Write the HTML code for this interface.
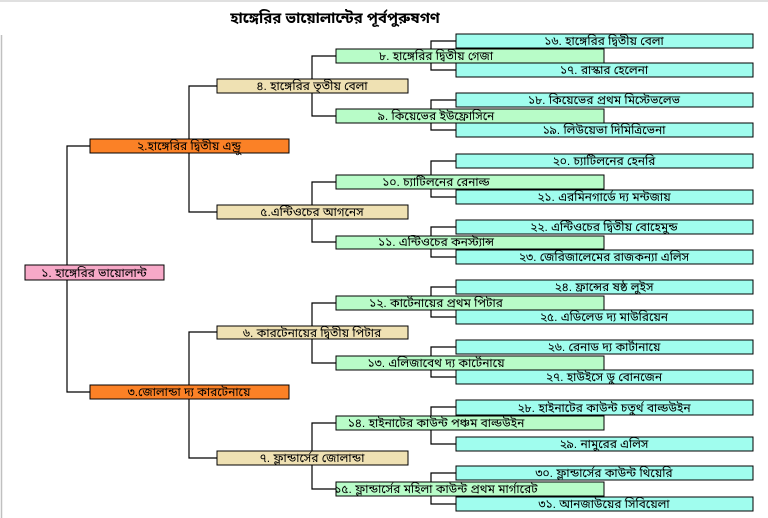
<!DOCTYPE html>
<html><head><meta charset="utf-8"><style>
html,body{margin:0;padding:0;background:#fff;}
svg{display:block;}
text{font-family:"Liberation Sans","Noto Sans Bengali","Lohit Bengali",sans-serif;font-size:12px;fill:#000;text-anchor:middle;}
</style></head><body>
<svg width="768" height="518" viewBox="0 0 768 518" xmlns="http://www.w3.org/2000/svg">
<rect x="0" y="0" width="768" height="518" fill="#fff"/>
<line x1="0" y1="1" x2="768" y2="1" stroke="#c0c0c0" stroke-width="1"/>
<line x1="1.5" y1="35" x2="1.5" y2="518" stroke="#c0c0c0" stroke-width="1.5"/>
<text x="335" y="23" style="font-size:15px;font-weight:bold">হাঙ্গেরির ভায়োলান্টের পূর্বপুরুষগণ</text>
<g stroke="#000" stroke-width="1.2" fill="none">
<path d="M90 146H67V392H90"/>
<path d="M217 86H189V212H217"/>
<path d="M217 332H189V458H217"/>
<path d="M336 56H312V116H336"/>
<path d="M336 182H312V242H336"/>
<path d="M336 303H312V363H336"/>
<path d="M336 423H312V489H336"/>
<path d="M456 41H431V70H456"/>
<path d="M456 100H431V130H456"/>
<path d="M456 161H431V197H456"/>
<path d="M456 227H431V257H456"/>
<path d="M456 287H431V317H456"/>
<path d="M456 347H431V377H456"/>
<path d="M456 407H431V444H456"/>
<path d="M456 473H431V504H456"/>
</g>
<g stroke="#000" stroke-width="1">
<rect x="25" y="265" width="139" height="15" fill="#f7a9c8"/>
<rect x="90" y="139" width="199" height="14" fill="#fb8126"/>
<rect x="90" y="385" width="199" height="14" fill="#fb8126"/>
<rect x="217" y="79" width="191" height="14" fill="#efe1b3"/>
<rect x="217" y="205" width="191" height="14" fill="#efe1b3"/>
<rect x="217" y="326" width="191" height="13" fill="#efe1b3"/>
<rect x="217" y="451" width="191" height="14" fill="#efe1b3"/>
<g fill="#b8fcc8">
<rect x="336" y="49" width="268" height="14"/>
<rect x="336" y="109" width="268" height="14"/>
<rect x="336" y="175" width="268" height="14"/>
<rect x="336" y="236" width="268" height="13"/>
<rect x="336" y="296" width="268" height="14"/>
<rect x="336" y="356" width="268" height="14"/>
<rect x="336" y="416" width="268" height="14"/>
<rect x="336" y="482" width="268" height="14"/>
</g>
<g fill="#a0fdee">
<rect x="456" y="34" width="297" height="14"/>
<rect x="456" y="63" width="297" height="14"/>
<rect x="456" y="93" width="297" height="14"/>
<rect x="456" y="123" width="297" height="14"/>
<rect x="456" y="154" width="297" height="14"/>
<rect x="456" y="190" width="297" height="14"/>
<rect x="456" y="220" width="297" height="14"/>
<rect x="456" y="250" width="297" height="14"/>
<rect x="456" y="280" width="297" height="14"/>
<rect x="456" y="310" width="297" height="14"/>
<rect x="456" y="340" width="297" height="14"/>
<rect x="456" y="370" width="297" height="14"/>
<rect x="456" y="400" width="297" height="15"/>
<rect x="456" y="437" width="297" height="14"/>
<rect x="456" y="466" width="297" height="14"/>
<rect x="456" y="497" width="297" height="14"/>
</g>
</g>
<text x="94" y="277">১. হাঙ্গেরির ভায়োলান্ট</text>
<text x="189" y="150">২.হাঙ্গেরির দ্বিতীয় এন্ড্রু</text>
<text x="189" y="396">৩.জোলান্ডা দ্য কারটেনায়ে</text>
<text x="312" y="90">৪. হাঙ্গেরির তৃতীয় বেলা</text>
<text x="312" y="216">৫.এন্টিওচের আগনেস</text>
<text x="312" y="337">৬. কারটেনায়ের দ্বিতীয় পিটার</text>
<text x="312" y="462">৭. ফ্লান্ডার্সের জোলান্ডা</text>
<text x="436" y="60">৮. হাঙ্গেরির দ্বিতীয় গেজা</text>
<text x="436" y="120">৯. কিয়েভের ইউফ্রোসিনে</text>
<text x="436" y="186">১০. চ্যাটিলনের রেনাল্ড</text>
<text x="436" y="246">১১. এন্টিওচের কনস্ট্যান্স</text>
<text x="436" y="307">১২. কার্টেনায়ের প্রথম পিটার</text>
<text x="436" y="367">১৩. এলিজাবেথ দ্য কার্টেনায়ে</text>
<text x="436" y="427">১৪. হাইনাটের কাউন্ট পঞ্চম বাল্ডউইন</text>
<text x="436" y="493">১৫. ফ্লান্ডার্সের মহিলা কাউন্ট প্রথম মার্গারেট</text>
<text x="604" y="45">১৬. হাঙ্গেরির দ্বিতীয় বেলা</text>
<text x="604" y="74">১৭. রাস্কার হেলেনা</text>
<text x="604" y="104">১৮. কিয়েভের প্রথম মিস্টেভলেভ</text>
<text x="604" y="134">১৯. লিউয়েভা দিমিত্রিভেনা</text>
<text x="604" y="165">২০. চ্যাটিলনের হেনরি</text>
<text x="604" y="201">২১. এরমিনগার্ডে দ্য মন্টজায়</text>
<text x="604" y="231">২২. এন্টিওচের দ্বিতীয় বোহেমুন্ড</text>
<text x="604" y="261">২৩. জেরিজালেমের রাজকন্যা এলিস</text>
<text x="604" y="291">২৪. ফ্রান্সের ষষ্ঠ লুইস</text>
<text x="604" y="321">২৫. এডিলেড দ্য মাউরিয়েন</text>
<text x="604" y="351">২৬. রেনাড দ্য কার্টানায়ে</text>
<text x="604" y="381">২৭. হাউইসে ডু বোনজেন</text>
<text x="604" y="412">২৮. হাইনাটের কাউন্ট চতুর্থ বাল্ডউইন</text>
<text x="604" y="448">২৯. নামুরের এলিস</text>
<text x="604" y="477">৩০. ফ্লান্ডার্সের কাউন্ট থিয়েরি</text>
<text x="604" y="508">৩১. আনজাউয়ের সিবিয়েলা</text>
</svg>
</body></html>
